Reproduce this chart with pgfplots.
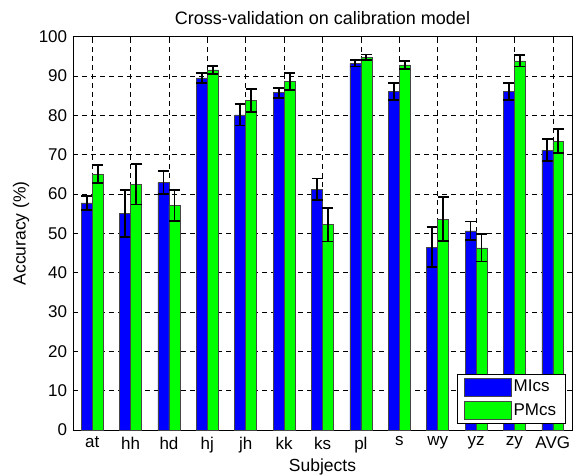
\documentclass[border=0pt]{standalone}
\usepackage{pgfplots}
\pgfplotsset{compat=1.18}
\usepackage{fontspec}
\setmainfont{Liberation Sans}
\definecolor{mblue}{RGB}{0,0,255}
\definecolor{mgreen}{RGB}{0,255,0}
\definecolor{medge}{RGB}{70,70,70}
\pgfplotsset{
  mylegend/.style={legend image code/.code={\draw[##1] (0bp,-9bp) rectangle (47bp,9bp);}},
  myerr/.style={
    error bars/.cd, y dir=both, y explicit,
    error bar style={black, line width=1.8bp},
    error mark options={rotate=90, mark size=5.5bp, line width=1.8bp, black},
  },
}
\begin{document}
\fontsize{17bp}{20bp}\selectfont
\begin{tikzpicture}
\begin{axis}[
  scale only axis, width=499bp, height=393.5bp,
  ybar=0pt, bar width=0.286,
  xmin=-0.5, xmax=12.5, ymin=0, ymax=100,
  xtick={0,...,12}, xticklabels={at,hh,hd,hj,jh,kk,ks,pl,s,wy,yz,zy,AVG},
  ytick={0,10,...,100},
  tick align=inside, tick pos=both,
  major tick length=5bp,
  tick style={black, line width=0.6bp},
  grid=major, grid style={black, line width=0.6bp, dash pattern=on 5bp off 4bp},
  axis line style={black, line width=0.9bp},
  title={\fontsize{18bp}{21bp}\selectfont Cross-validation on calibration model},
  title style={yshift=0bp},
  xlabel={\fontsize{17.5bp}{20bp}\selectfont Subjects},
  ylabel={\fontsize{17.5bp}{20bp}\selectfont Accuracy (\%)},
  xlabel style={yshift=5bp},
  ylabel style={yshift=-2bp},
  /pgf/number format/assume math mode=true,
  ticklabel style={font=\fontsize{17bp}{20bp}\selectfont},
  xticklabel style={yshift=-1bp},
  legend style={at={(0.987,0.017)}, anchor=south east, draw=black, line width=0.8bp,
    font=\fontsize{17bp}{20bp}\selectfont, row sep=5bp, inner xsep=7bp, inner ysep=3bp},
  legend cell align=left,
]
\addplot[fill=mblue, draw=medge, line width=0.6bp, mylegend, myerr] coordinates {
(0,57.7) +- (0,1.8)
(1,55.0) +- (0,6.0)
(2,62.9) +- (0,2.9)
(3,89.5) +- (0,1.3)
(4,80.1) +- (0,2.7)
(5,85.7) +- (0,1.3)
(6,61.2) +- (0,2.7)
(7,93.2) +- (0,0.8)
(8,86.0) +- (0,2.2)
(9,46.5) +- (0,5.1)
(10,50.6) +- (0,2.4)
(11,86.0) +- (0,2.2)
(12,71.1) +- (0,2.8)
};
\addplot[fill=mgreen, draw=medge, line width=0.6bp, mylegend, myerr] coordinates {
(0,65.0) +- (0,2.3)
(1,62.4) +- (0,5.1)
(2,57.1) +- (0,3.9)
(3,91.5) +- (0,1.1)
(4,83.7) +- (0,2.9)
(5,88.6) +- (0,2.1)
(6,52.2) +- (0,4.3)
(7,94.7) +- (0,0.7)
(8,92.8) +- (0,1.0)
(9,53.6) +- (0,5.6)
(10,46.3) +- (0,3.5)
(11,93.8) +- (0,1.4)
(12,73.4) +- (0,3.1)
};
\legend{MIcs, PMcs}
\end{axis}
\pgfresetboundingbox
\path[use as bounding box] ([xshift=-73bp,yshift=-46bp]current axis.south west) rectangle ([xshift=1bp,yshift=36.5bp]current axis.north east);
\end{tikzpicture}
\end{document}
